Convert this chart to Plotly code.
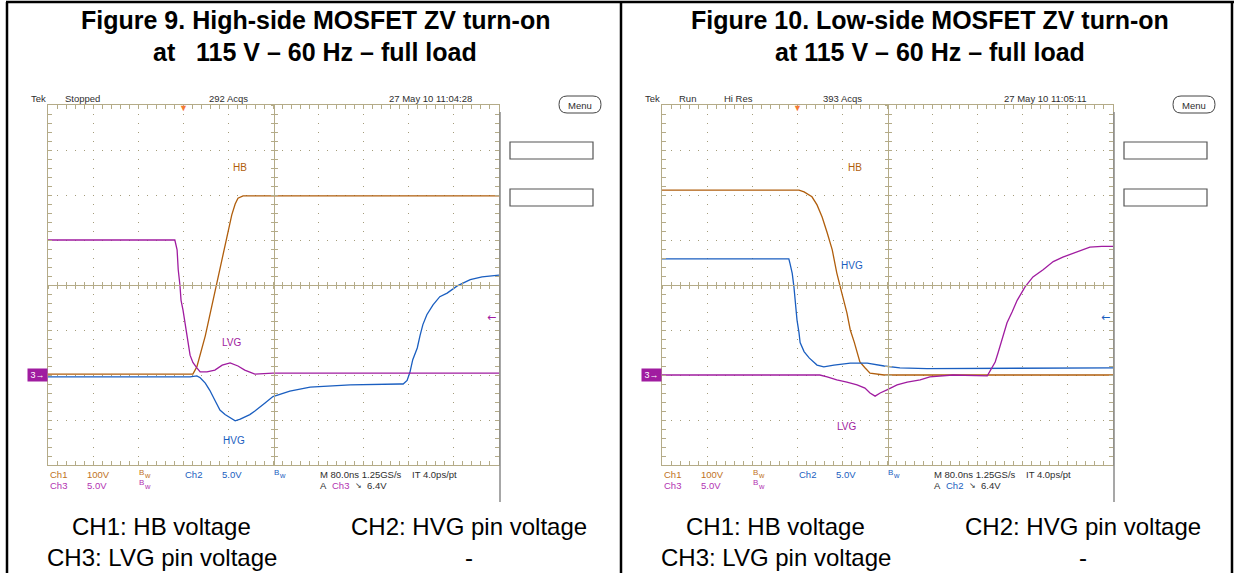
import plotly.graph_objects as go

W, H = 1234, 573


def PX(x):
    return x / W


def PY(y):
    return 1 - y / H


# ---------------- data (time in ns relative to trigger, volts) ----------------
# Figure 9 : high-side turn-on
t9_hb = [-240, 17, 24, 31, 39, 46, 53, 60, 67, 74, 81, 86, 92, 97, 106, 560]
v9_hb = [2, 2, 18, 51, 87, 127, 167, 207, 247, 287, 324, 356, 380, 393, 398, 398]

t9_hvg = [-240, 12, 24, 30, 39, 47, 56, 65, 74, 83, 92, 101, 109, 118, 127, 136, 145,
          159, 189, 225, 296, 384, 390, 397, 402, 407, 415, 420, 425, 432, 443, 455,
          468, 486, 509, 530, 560]
v9_hvg = [-0.2, -0.2, -0.1, -0.3, -0.9, -1.7, -2.8, -3.9, -4.4, -4.8, -5.1, -4.9, -4.7,
          -4.4, -4.0, -3.6, -3.1, -2.4, -1.8, -1.35, -1.1, -1.0, -1.0, -0.6, 0.3, 1.7,
          3.0, 4.4, 5.6, 6.7, 7.8, 8.7, 9.1, 9.9, 10.6, 10.9, 11.1]

t9_lvg = [-240, -15, -11, -9, -6, -4, -0.5, 3, 7, 12, 17, 24, 30, 42, 56, 69, 83, 97,
          109, 127, 159, 560]
v9_lvg = [15, 15, 13.9, 11.7, 10, 8.3, 7.2, 5.6, 4.2, 2.2, 1.4, 0.8, 0.35, 0.35, 0.55,
          1.1, 1.35, 1.0, 0.55, 0.1, 0.2, 0.2]

# Figure 10 : low-side turn-on
t10_hb = [-240, 3, 12, 26, 35, 44, 53, 62, 70, 76, 79, 88, 94, 101, 106, 111, 120, 129,
          154, 560]
v10_hb = [411, 411, 407, 396, 378, 351, 316, 278, 227, 200, 182, 138, 100, 73, 49, 29,
          16, 4, 0, 0]

t10_hvg = [-240, -15, -13, -9, -6, -4, -0.5, 3, 5, 12, 21, 35, 47, 65, 94, 124, 154,
           182, 230, 560]
v10_hvg = [12.9, 12.9, 12.4, 11.3, 9.8, 8.3, 6.1, 4.7, 3.6, 2.6, 1.9, 1.1, 0.9, 1.1,
           1.33, 1.33, 1.0, 0.8, 0.7, 0.8]

t10_lvg = [-240, 40, 53, 70, 88, 106, 120, 129, 138, 147, 159, 177, 195, 218, 235, 276,
           337, 345, 351, 356, 363, 372, 381, 390, 404, 418, 436, 454, 471, 496, 519,
           540, 560]
v10_lvg = [0, 0, -0.2, -0.55, -0.8, -1.1, -1.45, -2.0, -2.35, -2.0, -1.65, -1.1, -0.8,
           -0.55, -0.2, 0, -0.1, 0.8, 1.45, 2.45, 3.9, 5.8, 7.0, 8.3, 9.8, 10.9, 11.7,
           12.6, 13.1, 13.7, 14.2, 14.3, 14.3]

# scope settings
time_range = [-240, 560]      # 80 ns/div, trigger at 3rd division
hb_range = [-200, 600]        # 100 V/div, ground 2 div below centre
gate_range = [-10, 30]        # 5 V/div, ground 2 div below centre
trig_level = 6.4

titles = [["Figure 9. High-side MOSFET ZV turn-on", "at\u00a0\u00a0\u00a0115 V \u2013 60 Hz \u2013 full load"],
          ["Figure 10. Low-side MOSFET ZV turn-on", "at 115 V \u2013 60 Hz \u2013 full load"]]
captions = ["CH1: HB voltage", "CH2: HVG pin voltage", "CH3: LVG pin voltage", "-"]
headers = [[("Tek", 29), ("Stopped", 63), ("292 Acqs", 207), ("27 May 10 11:04:28", 387)],
           [("Tek", 643), ("Run", 677), ("Hi Res", 722), ("393 Acqs", 821), ("27 May 10 11:05:11", 1002)]]

# ---------------- styles ----------------
GRID = "#b4ab88"
DOT = "#a49c7a"
HB_C = "#b05e0c"
HVG_C = "#1a5ec0"
LVG_C = "#a01ca0"
TXT = "#2e2e2e"
FONT = "Liberation Sans"

fig = go.Figure()

panels = [
    dict(x="x", y="y", g="y2", cxi="x3", cxo="x4", cyi="y5", cyo="y6",
         left=48, right=499, data=[(t9_hb, v9_hb, HB_C, "y"), (t9_hvg, v9_hvg, HVG_C, "g"),
                                   (t9_lvg, v9_lvg, LVG_C, "g")],
         trig_color=LVG_C, trig_ch="Ch3",
         labels=[("HB", 100, 462, HB_C, "y"), ("LVG", 86, 3.6, LVG_C, "g"), ("HVG", 90, -7.3, HVG_C, "g")]),
    dict(x="x2", y="y3", g="y4", cxi="x5", cxo="x6", cyi="y7", cyo="y8",
         left=662, right=1113, data=[(t10_hb, v10_hb, HB_C, "y"), (t10_hvg, v10_hvg, HVG_C, "g"),
                                     (t10_lvg, v10_lvg, LVG_C, "g")],
         trig_color=HVG_C, trig_ch="Ch2",
         labels=[("HB", 102, 462, HB_C, "y"), ("HVG", 97, 12.2, HVG_C, "g"), ("LVG", 88, -5.7, LVG_C, "g")]),
]

TOP, BOT = 105, 465
ydom = [PY(BOT), PY(TOP)]
layout = dict(width=W, height=H, margin=dict(l=0, r=0, t=0, b=0),
              paper_bgcolor="white", plot_bgcolor="white", showlegend=False)


def axname(a):
    return "xaxis" + a[1:] if a.startswith("x") else "yaxis" + a[1:]


annotations = []
shapes = []


def ann(text, x, y, size=9.5, color=TXT, xanchor="left", yanchor="middle", **kw):
    d = dict(text=text, x=PX(x), y=PY(y), xref="paper", yref="paper", showarrow=False,
             xanchor=xanchor, yanchor=yanchor, font=dict(family=FONT, size=size, color=color))
    d.update(kw)
    annotations.append(d)


def bw(x, y, color):
    ann("B", x, y - 2, size=8, color=color)
    ann("w", x + 5, y + 1, size=7.5, color=color)


for p in panels:
    xd = [PX(p["left"]), PX(p["right"])]
    xc = PX((p["left"] + p["right"]) / 2)
    yc = PY((TOP + BOT) / 2)
    common = dict(showline=True, linecolor=GRID, linewidth=1, showticklabels=False,
                  zeroline=False, tickcolor=GRID, tickwidth=1, fixedrange=True)
    layout[axname(p["x"])] = dict(domain=xd, range=time_range, anchor=p["y"], mirror="ticks",
                                  ticks="inside", ticklen=4, dtick=80, tick0=-240,
                                  showgrid=True, gridcolor=DOT, griddash="1px,8px", gridwidth=1,
                                  minor=dict(dtick=16, tick0=-240, ticks="inside", ticklen=4,
                                             tickcolor=GRID, showgrid=False), **common)
    layout[axname(p["y"])] = dict(domain=ydom, range=hb_range, anchor=p["x"], mirror="ticks",
                                  ticks="inside", ticklen=4, dtick=100, tick0=0,
                                  showgrid=True, gridcolor=DOT, griddash="1px,8px", gridwidth=1,
                                  minor=dict(dtick=20, tick0=0, ticks="inside", ticklen=4,
                                             tickcolor=GRID, showgrid=False), **common)
    layout[axname(p["g"])] = dict(range=gate_range, overlaying=p["y"], anchor=p["x"], visible=False,
                                  fixedrange=True)
    for name, tk in ((p["cxi"], "inside"), (p["cxo"], "outside")):
        layout[axname(name)] = dict(overlaying=p["x"], anchor="free", position=yc, range=time_range,
                                    ticks=tk, ticklen=3, dtick=16, tick0=-240, showgrid=False, **common)
        fig.add_trace(go.Scatter(x=[], y=[], xaxis=name, yaxis=p["y"], mode="lines", hoverinfo="skip"))
    for name, tk in ((p["cyi"], "inside"), (p["cyo"], "outside")):
        layout[axname(name)] = dict(overlaying=p["y"], anchor="free", position=xc, range=hb_range,
                                    ticks=tk, ticklen=3, dtick=20, tick0=0, showgrid=False, **common)
        fig.add_trace(go.Scatter(x=[], y=[], xaxis=p["x"], yaxis=name, mode="lines", hoverinfo="skip"))

    for t, v, c, ax in p["data"]:
        fig.add_trace(go.Scatter(x=t, y=v, xaxis=p["x"], yaxis=p["y"] if ax == "y" else p["g"],
                                 mode="lines", line=dict(color=c, width=1.3), hoverinfo="skip"))

    for text, tx, ty, c, ax in p["labels"]:
        annotations.append(dict(text=text, x=tx, y=ty, xref=p["x"], yref=p["y"] if ax == "y" else p["g"],
                                showarrow=False, xanchor="center", yanchor="middle",
                                font=dict(family=FONT, size=10, color=c)))

    # trigger position marker
    annotations.append(dict(text="\u25BC", x=0, xref=p["x"], y=1, yref=p["y"] + " domain",
                            yanchor="middle", yshift=-2, showarrow=False,
                            font=dict(size=9, color="#f47a32")))
    # trigger level arrow
    annotations.append(dict(text="\u2190", x=PX(p["right"] - 1), xref="paper", y=trig_level, yref=p["g"],
                            xanchor="right", yanchor="middle", showarrow=False,
                            font=dict(family="DejaVu Sans", size=11, color=p["trig_color"])))
    # ch3 ground marker
    annotations.append(dict(text="3\u2192", x=PX(p["left"]), xref="paper", y=0, yref=p["g"],
                            xanchor="right", yanchor="middle", showarrow=False, bgcolor=LVG_C,
                            width=17, height=10, borderpad=1,
                            font=dict(family=FONT, size=9, color="white")))

    L = p["left"]
    # bottom channel settings
    row1, row2 = 474, 485
    ann("Ch1", L, row1, color="#c0721e")
    ann("100V", L + 37, row1, color="#c0721e")
    bw(L + 89, row1, "#c0721e")
    ann("Ch2", L + 135, row1, color=HVG_C)
    ann("5.0V", L + 172, row1, color=HVG_C)
    bw(L + 224, row1, HVG_C)
    ann("Ch3", L, row2, color="#b232b2")
    ann("5.0V", L + 37, row2, color="#b232b2")
    bw(L + 89, row2, "#b232b2")
    ann("M 80.0ns 1.25GS/s", L + 270, row1)
    ann("IT 4.0ps/pt", L + 362, row1)
    ann("A", L + 270, row2)
    ann(p["trig_ch"], L + 282, row2, color=p["trig_color"] if p["trig_ch"] == "Ch2" else "#b232b2")
    ann("\u2198", L + 305, row2, size=8)
    ann("6.4V", L + 317, row2)

    # right-side soft-key boxes, menu button, frame line
    for y0, y1 in ((142, 159), (189, 206)):
        shapes.append(dict(type="rect", xref="paper", yref="paper", x0=PX(p["right"] + 11),
                           x1=PX(p["right"] + 94), y0=PY(y1), y1=PY(y0),
                           line=dict(color="#555555", width=1.2)))
    mx0, mx1, my0, my1, r = p["right"] + 60, p["right"] + 102, 96, 113, 8
    ym = (my0 + my1) / 2
    path = (f"M{PX(mx0 + r)},{PY(my0)} L{PX(mx1 - r)},{PY(my0)} Q{PX(mx1)},{PY(my0)} {PX(mx1)},{PY(ym)} "
            f"Q{PX(mx1)},{PY(my1)} {PX(mx1 - r)},{PY(my1)} L{PX(mx0 + r)},{PY(my1)} "
            f"Q{PX(mx0)},{PY(my1)} {PX(mx0)},{PY(ym)} Q{PX(mx0)},{PY(my0)} {PX(mx0 + r)},{PY(my0)} Z")
    shapes.append(dict(type="path", path=path, xref="paper", yref="paper",
                       line=dict(color="#444444", width=1)))
    ann("Menu", (mx0 + mx1) / 2, ym + 0.5, size=9.5, xanchor="center")
    shapes.append(dict(type="line", xref="paper", yref="paper", x0=PX(p["right"] + 1), x1=PX(p["right"] + 1),
                       y0=PY(112), y1=PY(502), line=dict(color="#8a8a8a", width=1.5)))

for hs in headers:
    for text, x in hs:
        ann(text, x, 98)

# titles and captions
for cx, (l1, l2) in zip((315, 930), titles):
    ann(f"<b>{l1}</b>", cx, 20, size=25, color="black", xanchor="center")
    ann(f"<b>{l2}</b>", cx, 52, size=25, color="black", xanchor="center")
for off in (0, 614):
    ann(captions[0], 161.5 + off, 526, size=24, color="black", xanchor="center")
    ann(captions[1], 468.5 + off, 526, size=24, color="black", xanchor="center")
    ann(captions[2], 161.5 + off, 557, size=24, color="black", xanchor="center")
    ann(captions[3], 468.5 + off, 557, size=24, color="black", xanchor="center")

# table frame
for x0, y0, x1, y1 in ((6, 2, 1234, 2), (7, 2, 7, 573), (621, 2, 621, 573), (1232, 2, 1232, 573)):
    shapes.append(dict(type="line", xref="paper", yref="paper", x0=PX(x0), x1=PX(x1), y0=PY(y0), y1=PY(y1),
                       line=dict(color="black", width=2.5)))

layout["annotations"] = annotations
layout["shapes"] = shapes
fig.update_layout(**layout)
fig.write_html("out.html", config={"displayModeBar": False, "staticPlot": True},
               post_script="document.body.style.margin='0';document.body.style.overflow='hidden';")
